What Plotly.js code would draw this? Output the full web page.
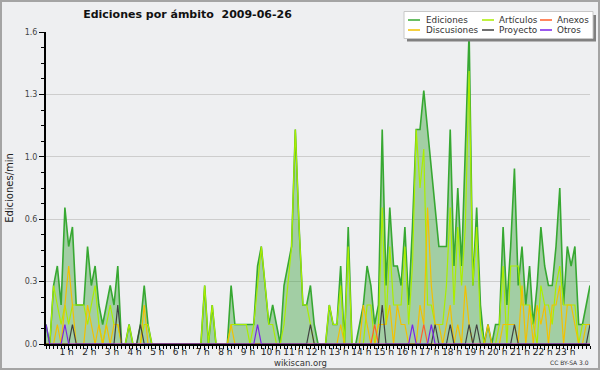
<!DOCTYPE html>
<html>
<head>
<meta charset="utf-8">
<script src="https://cdn.plot.ly/plotly-3.0.1.min.js"></script>
<style>html,body{margin:0;padding:0;background:#eeeff1;}#chart{width:600px;height:370px;}</style>
</head>
<body>
<div id="chart"></div>
<script>
// ---- data (10-minute steps, 00:00 .. 24:00) ----
const seriesNames = ['Ediciones', 'Artículos', 'Anexos', 'Discusiones', 'Proyecto', 'Otros'];

const ediciones = [
0.1,0,0.3,0.4,0.2,0.7,0.5,0.6,0.2,0.2,
0.2,0.5,0.3,0.4,0.2,0.1,0.2,0.3,0.2,0.4,
0,0,0.1,0,0,0.1,0.3,0.1,0,0,
0,0,0,0,0,0,0,0,0,0,
0,0,0.3,0,0.2,0,0,0,0,0.3,
0.1,0.1,0.1,0.1,0.1,0.1,0.4,0.5,0.3,0.1,
0.2,0.1,0,0.3,0.4,0.5,1.1,0.6,0.2,0.2,
0.3,0.1,0,0,0,0.2,0.1,0.1,0.4,0,
0.6,0,0,0.1,0.2,0.4,0.3,0.1,0.2,1.1,
0.3,0.7,0.4,0.4,0.3,0.6,0.2,0.6,1.1,1.1,
1.3,1.1,0.9,0.7,0.5,0.5,0.5,1.1,0.4,0.8,
0.4,1.0,1.6,0.3,0.7,0.2,0,0.1,0,0.1,
0.1,0.6,0.2,0.5,0.9,0.3,0.5,0.2,0.4,0.1,
0.3,0.6,0.4,0.3,0.3,0.5,0.8,0.2,0.5,0.4,
0.5,0.1,0.1,0.2,0.3
];

const articulos = [
0,0,0.3,0.2,0.1,0.2,0.1,0.2,0.2,0.2,
0.2,0.1,0.2,0.3,0.1,0,0.1,0.2,0.1,0.1,
0,0,0.1,0,0,0,0.1,0.1,0,0,
0,0,0,0,0,0,0,0,0,0,
0,0,0.3,0,0.2,0,0,0,0,0.1,
0.1,0.1,0.1,0.1,0,0.1,0.3,0.5,0.3,0.1,
0.1,0,0,0.1,0.3,0.5,1.1,0.6,0.2,0.2,
0.1,0,0,0,0,0.2,0.1,0.1,0.3,0,
0.5,0,0,0,0,0.2,0.2,0,0.1,0.7,
0.1,0.5,0.2,0.2,0.2,0.5,0.1,0.4,1.1,0.8,
1.0,0.2,0.2,0.1,0.1,0.1,0.3,0.7,0.2,0.6,
0.3,0.6,1.4,0.3,0.6,0.1,0,0,0,0,
0.1,0.4,0,0.4,0.4,0.4,0.2,0.2,0.2,0.1,
0,0.3,0.2,0.2,0.1,0.3,0.4,0.2,0.2,0.2,
0.2,0,0.1,0.1,0.1
];

const anexos = [
0,0,0,0,0,0,0,0,0,0,
0,0,0,0,0,0,0,0,0,0,
0,0,0,0,0,0,0,0,0,0,
0,0,0,0,0,0,0,0,0,0,
0,0,0,0,0,0,0,0,0,0,
0,0,0,0,0,0,0,0,0,0,
0,0,0,0,0,0,0,0,0,0,
0,0,0,0,0,0,0,0,0,0,
0,0,0,0,0,0,0,0.1,0,0,
0,0,0,0,0,0,0,0,0,0,
0.1,0,0,0,0,0,0,0,0,0,
0,0,0,0,0,0,0,0,0,0,
0,0,0,0,0,0,0,0,0,0,
0,0,0,0,0,0,0,0,0,0,
0,0,0,0,0
];

const discusiones = [
0,0,0,0.1,0,0.2,0.4,0.2,0,0,
0,0.2,0.1,0,0.1,0,0.1,0,0.1,0.1,
0,0,0,0,0,0,0.2,0,0,0,
0,0,0,0,0,0,0,0,0,0,
0,0,0,0,0,0,0,0,0,0.1,
0,0,0,0,0,0,0,0,0,0,
0,0,0,0,0,0,0,0,0,0,
0,0,0,0,0,0,0,0,0.1,0,
0,0,0,0,0.2,0.1,0,0,0.1,0.1,
0.1,0.2,0,0.2,0.1,0.1,0,0,0,0.2,
0.1,0.7,0.3,0.1,0.1,0,0.1,0.2,0,0.1,
0,0.3,0.1,0,0,0,0,0.1,0,0,
0,0.1,0.1,0.1,0.1,0,0.3,0,0.2,0,
0.2,0.1,0.2,0,0.2,0.2,0.3,0,0.2,0.2,
0.1,0,0,0.1,0.1
];

const proyecto = [
0,0,0,0,0,0,0,0.1,0,0,
0,0,0,0,0,0,0,0,0,0.2,
0,0,0,0,0,0.1,0,0,0,0,
0,0,0,0,0,0,0,0,0,0,
0,0,0,0,0,0,0,0,0,0,
0,0,0,0,0,0,0,0,0,0,
0,0,0,0,0,0,0,0,0,0,
0.1,0,0,0,0,0,0,0,0,0,
0,0,0,0,0,0,0,0,0,0.2,
0,0,0,0,0,0,0,0,0,0,
0,0,0,0.1,0,0,0,0.1,0,0,
0,0,0.1,0,0.1,0,0,0,0,0,
0,0,0,0,0.1,0,0,0,0,0,
0,0,0,0,0,0,0,0,0,0,
0,0,0,0,0.1
];

const otros = [
0.1,0,0,0,0,0.1,0,0,0,0,
0,0,0,0,0,0,0,0,0,0,
0,0,0,0,0,0,0,0,0,0,
0,0,0,0,0,0,0,0,0,0,
0,0,0,0,0,0,0,0,0,0,
0,0,0,0,0,0,0.1,0,0,0,
0,0,0,0,0,0,0,0,0,0,
0,0,0,0,0,0,0,0,0,0,
0,0,0,0,0,0,0,0,0,0,
0,0,0,0,0,0,0,0.1,0,0,
0,0,0.1,0,0,0,0,0,0,0,
0,0,0,0,0,0,0,0,0,0,
0,0,0,0,0,0,0,0,0,0,
0,0,0,0,0,0,0,0,0,0,
0,0,0,0,0
];

const hourTicks = [60,120,180,240,300,360,420,480,540,600,660,720,780,840,900,960,1020,1080,1140,1200,1260,1320,1380];
const hourLabels = ['1 h','2 h','3 h','4 h','5 h','6 h','7 h','8 h','9 h','10 h','11 h','12 h','13 h','14 h','15 h','16 h','17 h','18 h','19 h','20 h','21 h','22 h','23 h'];
const yTickVals = [0, 0.32, 0.64, 0.96, 1.28, 1.6];
const yTickText = ['0.0', '0.3', '0.6', '1.0', '1.3', '1.6'];

// time axis: minutes since midnight for each 10-minute sample
const minutes = ediciones.map((_, i) => i * 10);

// ---- styles ----
const colors = {
  'Ediciones': '#37a832',
  'Artículos': '#aaee00',
  'Anexos': '#ff5f2a',
  'Discusiones': '#f2c100',
  'Proyecto': '#414141',
  'Otros': '#7a22e8'
};
const values = {
  'Ediciones': ediciones, 'Artículos': articulos, 'Anexos': anexos,
  'Discusiones': discusiones, 'Proyecto': proyecto, 'Otros': otros
};
const drawOrder = ['Ediciones', 'Artículos', 'Discusiones', 'Anexos', 'Proyecto', 'Otros'];

const traces = drawOrder.map(name => {
  const t = {
    type: 'scatter', mode: 'lines', name: name,
    x: minutes, y: values[name],
    line: {color: colors[name], width: name === 'Ediciones' ? 1.6 : 1.2, shape: 'linear'},
    showlegend: false, hoverinfo: 'skip'
  };
  if (name === 'Ediciones') {
    t.fill = 'tozeroy';
    t.fillcolor = 'rgba(58,160,58,0.42)';
  }
  return t;
});

// ---- layout geometry (plot area 46..590 x 32..344 px) ----
const W = 600, H = 370, L = 46, R = 10, T = 32, B = 26;
const pw = W - L - R, ph = H - T - B;
const px = x => (x - L) / pw;
const py = y => (H - B - y) / ph;

const font = 'DejaVu Sans, Verdana, sans-serif';
const shapes = [];
const annotations = [];

// page border
shapes.push({type: 'rect', xref: 'paper', yref: 'paper', x0: px(1), x1: px(599), y0: py(1), y1: py(369),
  line: {color: '#a4a4a4', width: 2}, fillcolor: 'rgba(0,0,0,0)', layer: 'above'});

// legend box with shadow
shapes.push({type: 'rect', xref: 'paper', yref: 'paper', x0: px(407), x1: px(596), y0: py(15), y1: py(41.5),
  line: {width: 0}, fillcolor: '#808080', layer: 'above'});
shapes.push({type: 'rect', xref: 'paper', yref: 'paper', x0: px(404), x1: px(593), y0: py(11.5), y1: py(38.5),
  line: {color: '#c8c8c8', width: 1}, fillcolor: '#ffffff', layer: 'above'});

const colSample = [408, 482, 540];
const colText = [424, 497, 555];
const rowY = [20, 30];
seriesNames.forEach((name, k) => {
  const c = k % 3, r = Math.floor(k / 3);
  shapes.push({type: 'line', xref: 'paper', yref: 'paper', x0: px(colSample[c]), x1: px(colSample[c] + 12),
    y0: py(rowY[r]), y1: py(rowY[r]), line: {color: colors[name], width: 1.5}, layer: 'above'});
  annotations.push({xref: 'paper', yref: 'paper', x: px(colText[c]), y: py(rowY[r]), xanchor: 'left', yanchor: 'middle',
    text: name, showarrow: false, font: {family: font, size: 8.8, color: '#333'}});
});

annotations.push({xref: 'paper', yref: 'paper', x: px(300), y: py(362.5), xanchor: 'center', yanchor: 'middle',
  text: 'wikiscan.org', showarrow: false, font: {family: font, size: 8.5, color: '#333'}});
annotations.push({xref: 'paper', yref: 'paper', x: px(569), y: py(362.5), xanchor: 'center', yanchor: 'middle',
  text: 'CC BY-SA 3.0', showarrow: false, font: {family: font, size: 6, color: '#333'}});

const layout = {
  width: W, height: H,
  margin: {l: L, r: R, t: T, b: B, pad: 0},
  paper_bgcolor: '#eeeff1', plot_bgcolor: '#eeeff1',
  font: {family: font, color: '#222'},
  showlegend: false,
  title: {text: 'Ediciones por ámbito\u00a0 2009-06-26', font: {family: font, size: 11, color: '#111', weight: 700},
    xref: 'container', yref: 'container', x: 187.5 / W, y: 1 - 14 / H, xanchor: 'center', yanchor: 'middle'},
  xaxis: {
    range: [0, 1440], showgrid: false, zeroline: false, showline: true, linecolor: '#000', linewidth: 2,
    ticks: 'outside', ticklen: 4, tickwidth: 1, tickcolor: '#000',
    tickmode: 'array', tickvals: hourTicks, ticktext: hourLabels,
    tickfont: {family: font, size: 9, color: '#222'},
    ticklabelstandoff: -6, ticklabelshift: -2,
    minor: {tickmode: 'linear', tick0: 0, dtick: 10, ticklen: 3, tickwidth: 1, tickcolor: '#000', ticks: 'outside', showgrid: false},
    fixedrange: true
  },
  yaxis: {
    range: [0, 1.6], showgrid: true, gridcolor: '#cdcdcd', gridwidth: 1, zeroline: false,
    showline: true, linecolor: '#000', linewidth: 2,
    ticks: 'outside', ticklen: 5, tickwidth: 1, tickcolor: '#000',
    tickmode: 'array', tickvals: yTickVals, ticktext: yTickText,
    tickfont: {family: font, size: 8, color: '#444'},
    minor: {tickmode: 'linear', tick0: 0, dtick: 0.08, ticklen: 3, tickwidth: 1, tickcolor: '#000', ticks: 'outside', showgrid: false},
    title: {text: 'Ediciones/min', font: {family: font, size: 10, color: '#222'}, standoff: 9},
    automargin: false, fixedrange: true
  },
  shapes: shapes,
  annotations: annotations
};

Plotly.newPlot('chart', traces, layout, {displayModeBar: false, staticPlot: true});
</script>
</body>
</html>
